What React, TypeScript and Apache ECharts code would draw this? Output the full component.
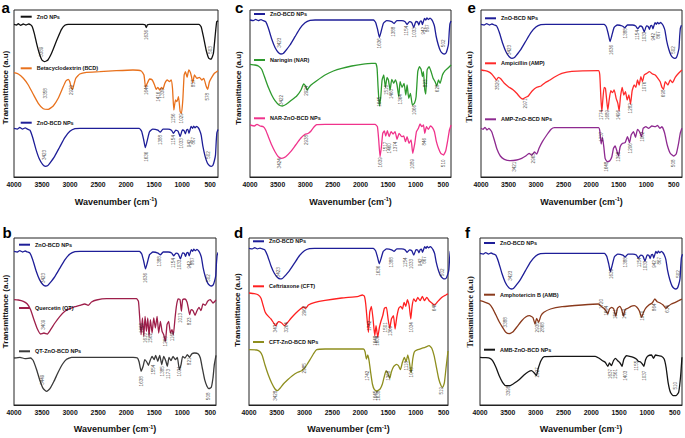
import React, { useEffect, useRef } from "react";
import * as echarts from "echarts";

const TICKS = [4000, 3500, 3000, 2500, 2000, 1500, 1000, 500];

// ZnO-BCD NPs spectrum, relative to its own baseline (shared by all panels)
const znoBcdShape: number[][] = [
  [4000, 0], [3940, -0.7], [3897, 0.7], [3849, -0.7], [3801, 0.3], [3758, -0.7], [3716, -1.7], [3668, -8],
  [3607, -19], [3547, -27.5], [3487, -32.5], [3440, -34], [3400, -33.5], [3366, -31.5], [3275, -25], [3185, -16.7],
  [3094, -8.3], [3003, -2.7], [2913, -0.3], [2822, 0], [1765, 0], [1723, -2.7], [1687, -10], [1657, -17.3],
  [1626, -11.7], [1584, -3.3], [1524, -0.7], [1433, -1.7], [1391, -3.5], [1342, -0.7], [1252, -0.7], [1191, -1.7],
  [1155, -4.5], [1113, -1.7], [1071, -2.7], [1035, -7.5], [995, -1.5], [965, -2], [942, -5], [920, -1.5],
  [898, -1], [878, -4.5], [860, -1.5], [840, 1.7], [815, 0], [795, 2], [770, 0.5], [740, 1.8], [712, 0.5],
  [690, -1.5], [660, -6], [630, -16], [590, -25], [550, -31], [510, -33.5], [480, -34], [450, -33], [425, -29],
  [405, -24], [392, -12], [380, -4], [360, -1],
];

// Panel a
const znoNPs: number[][] = [
  [4000, 152.7], [3953, 152], [3923, 153.3], [3881, 151.7], [3834, 153], [3787, 152], [3739, 153], [3704, 152.3],
  [3674, 150.3], [3638, 143.7], [3597, 133.7], [3549, 123.7], [3502, 117], [3454, 115.3], [3395, 117], [3330, 123.7],
  [3271, 132], [3211, 140.3], [3152, 147.7], [3093, 151.7], [3033, 152.7], [1700, 152.7], [1662, 152.3], [1640, 149.5],
  [1618, 152.3], [1580, 152.7], [700, 152.7], [661, 150.3], [620, 140.3], [572, 127], [525, 118.7], [484, 117.7],
  [442, 123.7], [406, 143.7], [383, 155.3], [360, 156.3],
];
const bcd: number[][] = [
  [4000, 104.3], [3923, 103], [3834, 98.7], [3745, 92], [3656, 82.7], [3567, 73.7], [3478, 68.3], [3389, 67.7],
  [3300, 71], [3211, 78.7], [3134, 88.7], [3075, 96], [3033, 97.7], [3004, 95.3], [2980, 89.7], [2956, 87.7],
  [2933, 92], [2897, 98.7], [2826, 103], [2707, 104.7], [2470, 105.3], [2174, 106.3], [1877, 107], [1729, 106],
  [1681, 102], [1652, 89.7], [1622, 93.7], [1581, 98], [1533, 97], [1492, 92], [1462, 87.7], [1432, 89.7],
  [1403, 87], [1367, 89.7], [1344, 87.7], [1308, 93.7], [1267, 97], [1225, 95.3], [1196, 97], [1172, 88.7],
  [1148, 67], [1118, 77], [1094, 75.3], [1065, 80.3], [1035, 65.3], [1011, 63.7], [988, 77], [964, 102],
  [940, 105.3], [911, 99.7], [881, 107], [851, 104.3], [833, 100.3], [810, 94.3], [780, 102], [739, 98.7],
  [691, 99.7], [650, 97], [614, 98.7], [572, 91], [543, 87.7], [513, 95.3], [472, 99.7], [424, 103.7], [360, 106.3],
];
const peaksA: (number | string)[][] = [
  [3508, 125.3, "3389"], [1628, 142, "1636"], [501, 127, "503"],
  [3431, 83.7, "3358"], [2974, 87, "2929"], [1640, 87, "1646"], [1420, 80.3, "1416"], [1344, 83.7, "1338"],
  [1154, 58.7, "1156"], [1005, 58.7, "1029"], [798, 93.7, "857"], [543, 80.3, "578"],
  [3449, 22, "3423"], [1640, 20.3, "1636"], [1391, 37, "1388"], [1154, 37, "1154"], [1017, 33.7, "1033"],
  [869, 33.7, "942"], [798, 36.3, "867"], [525, 22, "502"],
];

// Panel c
const naringin: number[][] = [
  [4000, 112.7], [3909, 112], [3849, 111], [3789, 107.7], [3728, 98.7], [3668, 89.7], [3607, 82], [3547, 76.3],
  [3475, 72], [3414, 71], [3336, 73], [3245, 77], [3154, 81], [3076, 87], [3028, 93], [2991, 91], [2967, 87],
  [2931, 89.7], [2895, 92], [2792, 96.3], [2641, 102], [2490, 106], [2339, 108.7], [2158, 111], [1977, 112.7],
  [1795, 113.7], [1723, 113.7], [1699, 108.7], [1681, 90.3], [1657, 71], [1632, 80.3], [1608, 97], [1578, 102],
  [1548, 89.7], [1518, 99.7], [1493, 97], [1463, 87], [1433, 97.7], [1397, 93.7], [1367, 97], [1337, 92],
  [1306, 80.3], [1282, 95.3], [1246, 89.7], [1210, 93.7], [1179, 82], [1155, 92], [1125, 78.7], [1095, 83.7],
  [1059, 72], [1022, 73.7], [992, 80.3], [962, 105.3], [932, 110.3], [902, 107.7], [877, 100.3], [859, 105.3],
  [835, 87], [817, 83], [793, 107], [757, 110.3], [720, 105.3], [684, 98.7], [648, 95.3], [618, 91], [587, 97],
  [557, 93.7], [515, 102], [467, 106.3], [418, 108.7], [358, 112],
];
const narZnoBcd: number[][] = [
  [4000, 52], [3921, 51], [3873, 52.7], [3819, 51], [3758, 50.3], [3716, 47], [3668, 40.3], [3607, 32],
  [3547, 25.3], [3487, 20.3], [3426, 18.7], [3354, 20.3], [3263, 25.3], [3173, 32], [3082, 38.7], [3003, 42.7],
  [2943, 43.7], [2895, 46], [2846, 49.7], [2792, 52.3], [2641, 52.7], [1735, 52.7], [1693, 50.3], [1669, 37],
  [1645, 20.3], [1620, 30.3], [1596, 43.7], [1566, 46], [1542, 41], [1512, 46.3], [1481, 40.3], [1445, 45.3],
  [1409, 43], [1373, 45.3], [1337, 37.7], [1300, 43.7], [1252, 40.3], [1216, 41], [1185, 35.3], [1155, 40.3],
  [1119, 33.7], [1083, 37], [1053, 23.7], [1016, 33.7], [986, 45.3], [950, 48.7], [920, 53], [889, 50.3],
  [859, 52], [835, 43.7], [805, 50.3], [769, 47.7], [733, 51], [696, 49.3], [660, 45.3], [624, 35.3], [587, 28.7],
  [545, 23.7], [497, 22], [455, 26.3], [418, 37], [388, 47], [358, 52],
];
const peaksC: (number | string)[][] = [
  [3469, 134.3, "3423"], [1663, 133.7, "1636"], [1403, 145.3, "1388"], [1161, 146.3, "1154"], [1022, 144.7, "1033"],
  [859, 146.3, "942"], [781, 148.7, "867"], [497, 133.7, "502"],
  [3438, 77, "3422"], [2973, 86.3, "2924"], [1663, 75.3, "1645"], [1536, 87, "1516"], [1445, 83, "1460"],
  [1270, 77.7, "1364"], [1022, 67, "1066"], [829, 93.7, "823"], [606, 88.7, "628"],
  [3469, 13.7, "3424"], [2973, 37, "2938"], [1645, 14.7, "1639"], [1542, 30.3, "1517"], [1481, 28.7, "1460"],
  [1373, 30.3, "1374"], [1053, 13, "1089"], [847, 35.3, "846"], [497, 13.7, "510"],
];

// Panel e
const ampicillin: number[][] = [
  [4000, 107], [3927, 106.3], [3867, 105.3], [3806, 103], [3758, 99.7], [3721, 97], [3685, 99.7], [3642, 98.3],
  [3576, 93.7], [3503, 90.3], [3430, 87.7], [3352, 83.7], [3291, 79.7], [3243, 78], [3188, 79.7], [3140, 81],
  [3067, 86.3], [2988, 89.7], [2909, 91], [2836, 94.3], [2746, 97], [2655, 100.3], [2533, 103.7], [2352, 105.7],
  [1867, 106.3], [1843, 102], [1824, 80.3], [1806, 65.3], [1788, 77], [1764, 89.7], [1740, 88.7], [1715, 75.3],
  [1697, 67], [1673, 77], [1643, 86.3], [1612, 84.3], [1582, 87], [1546, 78.7], [1515, 73.7], [1491, 66.3],
  [1467, 80.3], [1436, 89.7], [1406, 82], [1376, 85.3], [1346, 77], [1315, 82], [1285, 73], [1255, 86.3],
  [1218, 92], [1188, 89.7], [1158, 97], [1128, 92], [1097, 100.3], [1067, 95.3], [1037, 102], [988, 103.7],
  [940, 105.3], [885, 103], [837, 102], [788, 98.7], [746, 95.3], [715, 89.7], [685, 87.7], [655, 95.3],
  [606, 92], [564, 97], [521, 94.3], [473, 99.7], [412, 103.7], [352, 107],
];
const ampZnoBcd: number[][] = [
  [4000, 48.7], [3964, 47.7], [3927, 49.7], [3891, 47], [3855, 48.7], [3806, 45.3], [3758, 37], [3709, 27.7],
  [3649, 21], [3576, 17.7], [3473, 16.3], [3352, 17], [3261, 18.7], [3188, 21], [3127, 23.7], [3079, 21.7],
  [3030, 25], [2988, 23], [2946, 28.7], [2885, 35.3], [2806, 42], [2727, 47.7], [2667, 49.3], [1867, 49.3],
  [1843, 46.3], [1818, 33], [1794, 39.7], [1770, 30.3], [1746, 18.7], [1709, 15.3], [1661, 16.3], [1624, 20.3],
  [1594, 28.7], [1564, 31], [1534, 26.3], [1503, 21], [1473, 30.3], [1430, 33.7], [1382, 34.3], [1340, 40.3],
  [1303, 34.3], [1273, 42], [1231, 45.3], [1194, 39.7], [1158, 47.7], [1121, 45.3], [1085, 40.3], [1055, 48.7],
  [1006, 50.3], [958, 48.7], [897, 51], [837, 50.3], [794, 51.7], [752, 48.7], [715, 50.3], [667, 44.3],
  [618, 32], [564, 23.7], [503, 21], [455, 23], [412, 33.7], [382, 43.7], [352, 48.7],
];
const peaksE: (number | string)[][] = [
  [3485, 127, "3423"], [1637, 127, "1636"], [1382, 143.7, "1388"], [1152, 142, "1154"], [1031, 140.3, "1033"],
  [867, 140.3, "942"], [776, 142, "867"], [503, 127, "502"],
  [3697, 92, "3520"], [3200, 73.7, "2971"], [1806, 62, "1774"], [1697, 62, "1689"], [1503, 62, "1496"],
  [1279, 68.7, "1282"], [1031, 90.3, "1076"], [685, 83.7, "698"],
  [1806, 40.3, "1737"], [3394, 10.3, "3421"], [3049, 18.7, "2963"], [1715, 10.3, "1648"], [1503, 20.3, "1398"],
  [1279, 28.7, "1206"], [1067, 40.3, "1062"], [503, 13.7, "508"],
];

// Panel b
const quercetin: number[][] = [
  [4000, 105.3], [3923, 105], [3834, 103.7], [3763, 101], [3704, 95.3], [3644, 85.3], [3585, 76.3], [3526, 71],
  [3466, 72], [3407, 71], [3348, 75.3], [3271, 82], [3182, 88.7], [3093, 93.7], [3004, 96.3], [2915, 98.3],
  [2826, 99.7], [2737, 101], [2678, 99.7], [2618, 103], [2529, 105], [2351, 106.3], [1818, 106.3], [1782, 103.7],
  [1759, 87], [1735, 70.3], [1711, 87], [1687, 68.7], [1664, 88.7], [1640, 73.7], [1616, 87], [1593, 68.7],
  [1569, 85.3], [1539, 72], [1510, 87], [1480, 77], [1450, 88.7], [1421, 72], [1391, 83.7], [1361, 73.7],
  [1332, 70.3], [1302, 63.7], [1273, 80.3], [1243, 83.7], [1213, 72], [1184, 75.3], [1160, 70.3], [1130, 87],
  [1106, 98.7], [1077, 106], [1041, 105.3], [1017, 93.7], [994, 105.3], [952, 106], [917, 103], [893, 97],
  [869, 90.3], [845, 95.3], [810, 94.3], [774, 89.7], [739, 94.3], [703, 97.7], [667, 94.3], [632, 101],
  [591, 99.7], [549, 103.7], [501, 105.3], [454, 102], [400, 105],
];
const qtZnoBcd: number[][] = [
  [4000, 47], [3893, 47.7], [3804, 46.3], [3704, 47], [3656, 44.3], [3597, 35.3], [3537, 24.3], [3478, 16.3],
  [3419, 13.7], [3360, 16.3], [3288, 23.7], [3211, 33], [3134, 41], [3063, 45.7], [2974, 47.7], [1877, 47.7],
  [1800, 47], [1770, 43], [1735, 33.7], [1699, 38.7], [1669, 45.3], [1634, 43], [1604, 39.7], [1575, 44.3],
  [1539, 48.7], [1503, 45.3], [1474, 49.7], [1438, 43.7], [1403, 49.7], [1367, 40.3], [1332, 48.7], [1296, 44.3],
  [1267, 38.7], [1237, 47.7], [1202, 44.3], [1166, 48.7], [1124, 45.3], [1089, 47.7], [1053, 35.3], [1023, 40.3],
  [994, 48.7], [952, 47], [911, 50.3], [869, 47.7], [834, 51], [780, 52], [721, 51.3], [679, 47], [644, 37],
  [602, 25.3], [561, 18.7], [525, 16.3], [484, 17.7], [454, 27], [430, 40.3], [400, 49.7],
];
const peaksB: (number | string)[][] = [
  [3478, 127, "3423"], [1652, 127, "1636"], [1415, 143.7, "1388"], [1166, 142, "1154"], [1047, 140.3, "1033"],
  [881, 140.3, "942"], [810, 143.7, "867"], [525, 127, "502"],
  [3478, 80.3, "3409"], [1729, 77, "1666"], [1652, 67, "1610"], [1563, 67, "1562"], [1302, 63.7, "1263"],
  [1183, 68.7, "1166"], [1035, 87, "1013"], [869, 83.7, "823"],
  [3490, 25.3, "3449"], [1729, 23.7, "1638"], [1521, 35.3, "1554"], [1355, 33.7, "1385"], [1254, 31, "1173"],
  [1047, 33.7, "1031"], [869, 43.7, "821"], [525, 8.7, "508"],
];

// Panel d
const ceftriaxone: number[][] = [
  [4000, 112], [3904, 111.3], [3832, 110], [3784, 106.7], [3748, 100], [3712, 93.3], [3664, 89.3], [3604, 86],
  [3556, 82], [3520, 79.3], [3472, 83.3], [3412, 82], [3364, 79.3], [3316, 82], [3244, 86.7], [3160, 91.7],
  [3076, 96], [3016, 98], [2980, 96.7], [2932, 100], [2812, 102.7], [2632, 104.7], [2332, 107], [2032, 108.7],
  [1960, 110], [1924, 108.7], [1900, 101], [1876, 86], [1852, 72.7], [1828, 92.7], [1798, 98.7], [1768, 86],
  [1738, 69.3], [1714, 79.3], [1684, 67.7], [1654, 77.7], [1624, 84.3], [1594, 89.3], [1564, 96.7], [1528, 97.7],
  [1498, 86], [1468, 76.7], [1438, 86], [1402, 89.3], [1372, 76], [1342, 87.7], [1306, 96.7], [1270, 98.7],
  [1240, 96], [1210, 102.7], [1180, 98.7], [1150, 105.3], [1120, 100], [1090, 86], [1066, 98.7], [1036, 106],
  [1000, 103.3], [964, 107.7], [922, 104.3], [880, 108.7], [844, 104.3], [802, 107.7], [760, 104.3], [712, 102],
  [664, 100], [616, 102.7], [562, 106], [502, 108.7], [460, 110], [420, 111.3],
];
const cftZnoBcd: number[][] = [
  [4000, 55.3], [3862, 55], [3802, 53.3], [3760, 49.3], [3712, 40], [3652, 30], [3592, 22], [3532, 16],
  [3490, 14.3], [3442, 16.7], [3382, 21], [3304, 25.3], [3220, 29.3], [3124, 32.7], [3052, 34.3], [3004, 36.7],
  [2962, 40], [2902, 45.3], [2842, 51], [2782, 55.3], [2632, 56], [1942, 56], [1912, 53.3], [1888, 46], [1864, 50],
  [1840, 44.3], [1810, 32], [1780, 21], [1744, 15.3], [1696, 14], [1642, 16], [1600, 21], [1570, 27.7], [1534, 34.3],
  [1504, 32], [1468, 26.7], [1438, 33.3], [1396, 38.7], [1348, 40.7], [1312, 39.3], [1276, 35.3], [1240, 42.7],
  [1204, 47.7], [1174, 43.3], [1144, 50], [1114, 42.7], [1084, 32], [1054, 46], [1024, 53.3], [964, 55.3],
  [892, 56.7], [832, 57.7], [760, 59.3], [712, 56.7], [670, 49.3], [628, 37.7], [586, 26], [544, 19.3],
  [514, 17.7], [484, 22.7], [454, 37.7], [420, 54],
];
const peaksD: (number | string)[][] = [
  [3472, 132.7, "3423"], [1672, 134.3, "1636"], [1432, 142.7, "1388"], [1192, 142.7, "1154"], [1084, 141, "1033"],
  [922, 142.7, "942"], [850, 145, "867"], [520, 132.7, "502"],
  [3532, 77.7, "3431"], [3322, 77.7, "3264"], [3010, 94.3, "2960"], [1840, 79.3, "1742"], [1732, 64.3, "1648"],
  [1684, 64.3, "1608"], [1552, 77.7, "1501"], [1450, 74, "1366"], [1084, 77.7, "1034"], [670, 97.7, "645"],
  [3520, 9.3, "3428"], [3010, 36.7, "2985"], [1864, 29.3, "1742"], [1732, 9.3, "1645"], [1672, 9.3, "1638"],
  [1492, 29.3, "1368"], [1162, 39.3, "1118"], [1072, 32.7, "1043"], [544, 14.3, "519"],
];

// Panel f
const amphotericin: number[][] = [
  [4000, 104.3], [3905, 102.7], [3833, 101], [3774, 96.7], [3714, 90], [3655, 83.3], [3595, 77.7], [3536, 72.7],
  [3476, 71.3], [3405, 73.3], [3328, 78.7], [3250, 84.3], [3179, 88], [3108, 89.3], [3048, 87.3], [3012, 81],
  [2983, 86.7], [2947, 82.7], [2905, 89.3], [2852, 92.7], [2733, 96], [2524, 98.3], [2167, 100], [1870, 101],
  [1822, 98.7], [1775, 96.7], [1739, 94.3], [1703, 91], [1674, 96], [1632, 97.7], [1596, 96], [1560, 88.7],
  [1530, 96.7], [1489, 98.7], [1453, 95.3], [1424, 88.7], [1394, 95.3], [1346, 96.7], [1287, 98.7], [1227, 99.3],
  [1180, 97.7], [1138, 94.3], [1096, 87.7], [1061, 92.7], [1025, 96.7], [965, 100], [906, 102], [858, 106],
  [816, 103.3], [763, 102], [709, 100], [662, 96.7], [620, 98.7], [561, 101], [490, 102.7], [430, 104.3], [371, 106],
];
const ambZnoBcd: number[][] = [
  [4000, 47.7], [3893, 47.3], [3822, 46.7], [3774, 44.3], [3714, 37.7], [3655, 29.3], [3595, 22.7], [3536, 19.3],
  [3464, 19.3], [3387, 21.7], [3298, 25.3], [3209, 30], [3131, 33.3], [3072, 34.3], [3024, 32], [2988, 29.3],
  [2953, 36.7], [2905, 44.3], [2846, 48.3], [2643, 48.7], [1929, 48.7], [1858, 46.7], [1798, 44.3], [1750, 42.7],
  [1703, 38.7], [1674, 42], [1638, 39.3], [1602, 44.3], [1566, 46.7], [1525, 44.3], [1483, 42], [1447, 38.7],
  [1418, 45.3], [1370, 49.3], [1310, 48.7], [1245, 47.7], [1191, 46], [1144, 43.3], [1126, 43.3], [1084, 41],
  [1055, 38.7], [1025, 45.3], [989, 48.7], [918, 50], [882, 46.7], [846, 50], [787, 49.3], [739, 48.7],
  [691, 46], [656, 37.7], [620, 22.7], [578, 12.7], [531, 9.3], [477, 9.3], [430, 12.7], [394, 29.3], [371, 47.7],
];
const peaksF: (number | string)[][] = [
  [3459, 129.3, "3423"], [1644, 131, "1636"], [1394, 142.7, "1388"], [1138, 142.7, "1154"], [1025, 139.3, "1033"],
  [858, 141, "942"], [781, 144.3, "867"], [440, 131, "502"],
  [3548, 82.7, "3388"], [2971, 77.7, "2938"], [2870, 77.7, "2868"], [1810, 101, "1720"], [1721, 94.3, "1694"],
  [1560, 91, "1561"], [1406, 91, "1403"], [1079, 89.3, "1070"], [858, 97.7, "864"], [638, 96, "614"],
  [3488, 14.3, "3398"], [2971, 32.7, "2927"], [1650, 31, "1637"], [1560, 31, "1561"], [1394, 29.3, "1403"],
  [1186, 39.3, "1155"], [1049, 29.3, "1037"], [490, 19.3, "510"],
];

const FONT = "'Liberation Sans', Arial, Helvetica, sans-serif";
const SERIF = "'Liberation Serif', 'Times New Roman', serif";
const ZNOBCD = "ZnO-BCD NPs";
const NAVY = "#1E1E98";

type SeriesDef = { name: string; color: string; data?: number[][]; offset?: number; scale?: number };
type Panel = {
  letter: string; letterPos: number[]; left: number; top: number; width: number; height: number; xMin: number;
  yGap: number; yShift: number; serif: boolean; xGap: number; series: SeriesDef[]; legends: number[][];
  peaks: (number | string)[][];
};

const panels: Panel[] = [
  {
    letter: "a", letterPos: [1.5, 0], left: 14, top: 10, width: 204, height: 167, xMin: 360, yGap: 5, yShift: 12,
    serif: false, xGap: 19, peaks: peaksA,
    series: [
      { name: "ZnO NPs", color: "#111111", data: znoNPs },
      { name: "Betacyclodextrin (BCD)", color: "#E8711C", data: bcd },
      { name: ZNOBCD, color: NAVY, offset: 48.7, scale: 1.12 },
    ],
    legends: [[20.7, 16.7], [20.7, 68.3], [20.7, 122.7]],
  },
  {
    letter: "c", letterPos: [235, 0], left: 250, top: 10, width: 201, height: 167, xMin: 360, yGap: 7.5, yShift: 11,
    serif: false, xGap: 19, peaks: peaksC,
    series: [
      { name: ZNOBCD, color: NAVY, offset: 157, scale: 1.0 },
      { name: "Naringin (NAR)", color: "#2E9A2E", data: naringin },
      { name: "NAR-ZnO-BCD NPs", color: "#F0338C", data: narZnoBcd },
    ],
    legends: [[254, 14], [254, 60], [254, 118.3]],
  },
  {
    letter: "e", letterPos: [467.5, 0], left: 481, top: 10, width: 201, height: 167, xMin: 350, yGap: 8, yShift: 13,
    serif: true, xGap: 19, peaks: peaksE,
    series: [
      { name: ZNOBCD, color: NAVY, offset: 152.7, scale: 1.0 },
      { name: "Ampicillin (AMP)", color: "#FF2A2A", data: ampicillin },
      { name: "AMP-ZnO-BCD NPs", color: "#8E2A90", data: ampZnoBcd },
    ],
    legends: [[485, 18.3], [485, 63.3], [485, 119.3]],
  },
  {
    letter: "b", letterPos: [2.5, 225], left: 14, top: 238, width: 202, height: 167, xMin: 400, yGap: 5, yShift: 20,
    serif: false, xGap: 18.5, peaks: peaksB,
    series: [
      { name: ZNOBCD, color: NAVY, offset: 153.7, scale: 1.02 },
      { name: "Quercetin (QT)", color: "#9E1F4A", data: quercetin },
      { name: "QT-ZnO-BCD NPs", color: "#3A3A3A", data: qtZnoBcd },
    ],
    legends: [[19, 244.7], [19, 308], [19, 351.3]],
  },
  {
    letter: "d", letterPos: [234, 225], left: 249, top: 238, width: 199, height: 167, xMin: 420, yGap: 8, yShift: 23,
    serif: false, xGap: 18.5, peaks: peaksD,
    series: [
      { name: ZNOBCD, color: NAVY, offset: 156.7, scale: 0.9 },
      { name: "Ceftriaxone (CFT)", color: "#FF2020", data: ceftriaxone },
      { name: "CFT-ZnO-BCD NPs", color: "#8E8E1E", data: cftZnoBcd },
    ],
    legends: [[253, 241.3], [253, 286.3], [253, 342]],
  },
  {
    letter: "f", letterPos: [465, 225], left: 480, top: 238, width: 202, height: 167, xMin: 370, yGap: 6, yShift: 19,
    serif: true, xGap: 18.5, peaks: peaksF,
    series: [
      { name: ZNOBCD, color: NAVY, offset: 151.7, scale: 1.05 },
      { name: "Amphotericin B (AMB)", color: "#8A3A1C", data: amphotericin },
      { name: "AMB-ZnO-BCD NPs", color: "#151515", data: ambZnoBcd },
    ],
    legends: [[484, 243], [484, 294.7], [484, 349.7]],
  },
];

function buildOption() {
  const grid: any[] = [];
  const xAxis: any[] = [];
  const yAxis: any[] = [];
  const series: any[] = [];
  const legend: any[] = [];
  const title: any[] = [];

  panels.forEach((p, i) => {
    grid.push({
      left: p.left, top: p.top, width: p.width, height: p.height,
      show: true, borderColor: "#222", borderWidth: 1, backgroundColor: "transparent",
    });
    xAxis.push({
      type: "value", gridIndex: i, min: p.xMin, max: 4000, inverse: true,
      axisLine: { show: true, lineStyle: { color: "#222", width: 1 } },
      axisTick: { show: false }, splitLine: { show: false },
      axisLabel: {
        customValues: TICKS, margin: 3.5, fontSize: 6.8, fontWeight: "bold", color: "#111", fontFamily: FONT,
        formatter: (v: number) => String(v),
      },
      name: "{b|Wavenumber (cm}{s|-1}{b|)}", nameLocation: "middle", nameGap: p.xGap,
      nameTextStyle: {
        rich: {
          b: { fontSize: 9, fontWeight: "bold", fontFamily: FONT, color: "#111" },
          s: { fontSize: 5.5, fontWeight: "bold", fontFamily: FONT, color: "#111", padding: [0, 0, 5, 0] },
        },
      },
    });
    yAxis.push({
      type: "value", gridIndex: i, min: 0, max: 167,
      axisLine: { show: false }, axisTick: { show: false }, axisLabel: { show: false }, splitLine: { show: false },
      name: "Transmittance (a.u)", nameLocation: "middle", nameGap: p.yGap,
      nameTextStyle: {
        fontSize: p.serif ? 8.5 : 8, fontWeight: "bold", fontFamily: p.serif ? SERIF : FONT, color: "#111",
        padding: [0, 0, 0, p.yShift],
      },
    });
    p.series.forEach((s, k) => {
      const data = s.data
        ? s.data
        : znoBcdShape.map(([w, d]) => [w, +((s.offset as number) + d * (s.scale as number)).toFixed(2)]);
      series.push({
        type: "line", name: s.name, xAxisIndex: i, yAxisIndex: i, data,
        showSymbol: false, symbol: "none", smooth: 0.15, silent: true, z: 2,
        lineStyle: { width: 1.3, color: s.color }, itemStyle: { color: s.color },
      });
      const [lx, ly] = p.legends[k];
      legend.push({
        left: lx, top: ly - 3.5, padding: 0, itemWidth: 11, itemHeight: 2, icon: "rect",
        selectedMode: false, data: [s.name],
        textStyle: { fontSize: 5.5, fontWeight: "bold", fontFamily: FONT, color: "#111", lineHeight: 7 },
      });
    });
    series.push({
      type: "scatter", xAxisIndex: i, yAxisIndex: i, silent: true, z: 3,
      symbolSize: 1, itemStyle: { color: "rgba(0,0,0,0)" },
      data: p.peaks.map(([w, v, t]) => ({ value: [w, v], label: { formatter: String(t) } })),
      label: { show: true, position: "inside", rotate: 90, fontSize: 4.6, color: "#222", fontFamily: FONT },
    });
    title.push({
      text: p.letter, left: p.letterPos[0], top: p.letterPos[1], padding: 0,
      textStyle: { fontSize: 15, fontWeight: "bold", fontFamily: FONT, color: "#000" },
    });
  });

  return {
    animation: false,
    backgroundColor: "#ffffff",
    title, grid, xAxis, yAxis, series, legend,
  };
}

export default function App() {
  const ref = useRef<HTMLDivElement>(null);
  useEffect(() => {
    document.body.style.margin = "0";
    const chart = echarts.init(ref.current as HTMLDivElement, null, { renderer: "svg" });
    chart.setOption(buildOption() as any);
    return () => chart.dispose();
  }, []);
  return <div ref={ref} style={{ width: 685, height: 438, background: "#fff" }} />;
}
